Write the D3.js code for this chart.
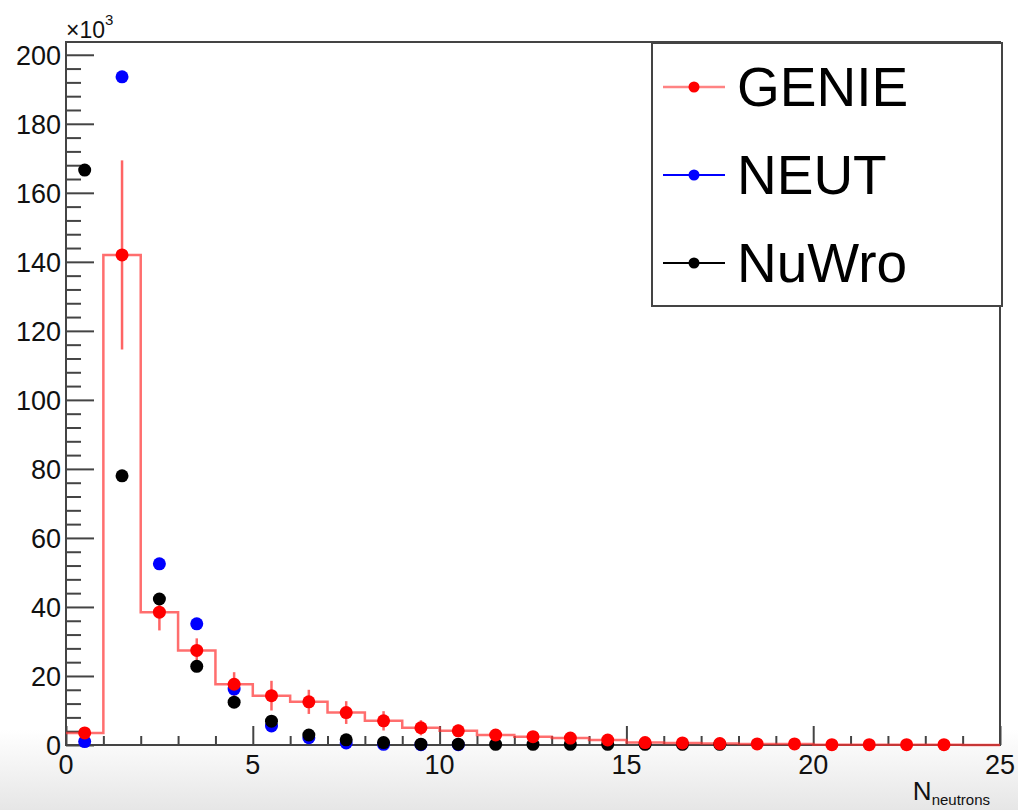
<!DOCTYPE html>
<html>
<head>
<meta charset="utf-8">
<script src="https://cdn.jsdelivr.net/npm/d3@7"></script>
<style>
  html, body { margin: 0; padding: 0; background: #fff; }
  svg { display: block; font-family: "Liberation Sans", Arial, Helvetica, sans-serif; }
</style>
</head>
<body>
<svg id="chart" width="1018" height="810"></svg>
<script>
// Neutron multiplicity per generator, in units of 10^3 entries per bin
const binEdges = d3.range(0, 26);          // 25 unit-width bins from 0 to 25
const genie    = [3.5, 142, 38.5, 27.4, 17.6, 14.3, 12.5, 9.4, 7.0, 5.0, 4.1, 2.9, 2.4, 2.0, 1.45, 0.7, 0.6, 0.4, 0.3, 0.3, 0.1, 0.1, 0.1, 0.1, 0];
const genieErr = [1.0, 27.4, 5.3, 3.5, 3.5, 4.3, 3.5, 3.3, 2.8, 2.2, 1.8, 1.5, 1.3, 1.1, 0.9, 0.6, 0.6, 0.4, 0.4, 0.3, 0.2, 0.2, 0.2, 0.2, 0];
const neut     = [1.0, 193.6, 52.5, 35.1, 16.2, 5.5, 2.1, 0.6, 0.2, 0.1, 0.1, 0, 0, 0, 0, 0, 0, 0, 0, 0, 0, 0, 0, 0, 0];
const nuwro    = [166.6, 78.0, 42.3, 22.8, 12.4, 6.9, 2.9, 1.5, 0.7, 0.25, 0.25, 0.2, 0.2, 0.2, 0.2, 0.2, 0.2, 0.2, 0, 0, 0, 0, 0, 0, 0];
const yTicks   = d3.range(0, 201, 20);
const xTicks   = [0, 5, 10, 15, 20, 25];
const legendNames  = ["GENIE", "NEUT", "NuWro"];
const legendColors = ["#ff0000", "#0000ff", "#000000"];

const svg = d3.select("#chart");
const W = 1018, H = 810;
const frame = { left: 66, right: 1000, top: 42, bottom: 745 };

// soft grey fade toward the bottom edge of the canvas
const defs = svg.append("defs");
const grad = defs.append("linearGradient").attr("id", "bgfade")
  .attr("x1", 0).attr("y1", 0).attr("x2", 0).attr("y2", 1);
grad.append("stop").attr("offset", "0%").attr("stop-color", "#ffffff");
grad.append("stop").attr("offset", "100%").attr("stop-color", "#e6e6e6");
svg.append("rect").attr("width", W).attr("height", H).attr("fill", "#fff");
svg.append("rect").attr("x", 0).attr("y", 730).attr("width", W).attr("height", 80).attr("fill", "url(#bgfade)");
svg.append("rect").attr("x", frame.left).attr("y", frame.top)
  .attr("width", frame.right - frame.left).attr("height", frame.bottom - frame.top).attr("fill", "#fff");

const x = d3.scaleLinear().domain([0, 25]).range([frame.left, frame.right]);
const y = d3.scaleLinear().domain([0, 203.7]).range([frame.bottom, frame.top]);

const axisColor = "#444";

// Y axis: major ticks every 20, minor every 4
const yAxis = d3.axisRight(y).tickValues(yTicks).tickSize(28).tickFormat("");
const gy = svg.append("g").attr("transform", `translate(${frame.left},0)`).call(yAxis);
gy.select(".domain").remove();
gy.selectAll("line").attr("stroke", axisColor).attr("stroke-width", 2);
const yMinor = d3.axisRight(y).tickValues(d3.range(0, 204, 4).filter(v => v % 20 !== 0)).tickSize(15).tickFormat("");
const gym = svg.append("g").attr("transform", `translate(${frame.left},0)`).call(yMinor);
gym.select(".domain").remove();
gym.selectAll("line").attr("stroke", axisColor).attr("stroke-width", 2);
svg.append("g").selectAll("text").data(yTicks).join("text")
  .attr("x", 61).attr("y", d => y(d) + 10)
  .attr("text-anchor", "end").attr("font-size", 27).attr("fill", "#111")
  .text(d => d);

// X axis: major ticks every 5, minor every 1
const xAxis = d3.axisTop(x).tickValues(xTicks).tickSize(19).tickFormat("");
const gx = svg.append("g").attr("transform", `translate(0,${frame.bottom})`).call(xAxis);
gx.select(".domain").remove();
gx.selectAll("line").attr("stroke", axisColor).attr("stroke-width", 2);
const xMinor = d3.axisTop(x).tickValues(d3.range(1, 25).filter(v => v % 5 !== 0)).tickSize(9).tickFormat("");
const gxm = svg.append("g").attr("transform", `translate(0,${frame.bottom})`).call(xMinor);
gxm.select(".domain").remove();
gxm.selectAll("line").attr("stroke", axisColor).attr("stroke-width", 2);
svg.append("g").selectAll("text").data(xTicks).join("text")
  .attr("x", d => x(d)).attr("y", 774)
  .attr("text-anchor", "middle").attr("font-size", 27).attr("fill", "#111")
  .text(d => d);

// exponent marker for the y axis
const expo = svg.append("text").attr("x", 66).attr("y", 38).attr("font-size", 23).attr("fill", "#111");
expo.append("tspan").text("\u00d710");
expo.append("tspan").attr("dy", -13).attr("font-size", 15).text("3");

// x axis title
const xt = svg.append("text").attr("x", 990).attr("y", 800).attr("text-anchor", "end").attr("fill", "#111");
xt.append("tspan").attr("font-size", 26).text("N");
xt.append("tspan").attr("font-size", 15).attr("dy", 5).text("neutrons");

// frame
svg.append("rect").attr("x", frame.left).attr("y", frame.top)
  .attr("width", frame.right - frame.left).attr("height", frame.bottom - frame.top)
  .attr("fill", "none").attr("stroke", axisColor).attr("stroke-width", 2);

const plot = svg.append("g");
const centers = binEdges.slice(0, -1).map(e => e + 0.5);

// GENIE histogram outline (step line)
const pink = "#ff3030";
const stepPts = [];
genie.forEach((v, i) => { stepPts.push([binEdges[i], v]); stepPts.push([binEdges[i + 1], v]); });
plot.append("path")
  .attr("d", d3.line().x(d => x(d[0])).y(d => y(d[1])).curve(d3.curveLinear)(stepPts))
  .attr("fill", "none").attr("stroke", pink).attr("stroke-opacity", 0.7).attr("stroke-width", 2.5);

// GENIE vertical error bars
plot.append("g").selectAll("line").data(genie.map((v, i) => ({ c: centers[i], v, e: genieErr[i] })).filter(d => d.e > 0))
  .join("line")
  .attr("x1", d => x(d.c)).attr("x2", d => x(d.c))
  .attr("y1", d => y(Math.max(0, d.v - d.e))).attr("y2", d => y(d.v + d.e))
  .attr("stroke", pink).attr("stroke-opacity", 0.75).attr("stroke-width", 2.5);

// markers: NEUT, then NuWro, then GENIE on top
function drawMarkers(vals, color) {
  plot.append("g").selectAll("circle")
    .data(vals.map((v, i) => ({ c: centers[i], v })).filter(d => d.v > 0))
    .join("circle")
    .attr("cx", d => x(d.c)).attr("cy", d => y(d.v)).attr("r", 6.5)
    .attr("fill", color);
}
drawMarkers(neut, "#0000ff");
drawMarkers(nuwro, "#000000");
drawMarkers(genie, "#ff0000");

// legend
const lg = svg.append("g");
lg.append("rect").attr("x", 652).attr("y", 43).attr("width", 350).attr("height", 263)
  .attr("fill", "#fff").attr("stroke", axisColor).attr("stroke-width", 2);
const rowY = [87, 175, 263];
legendNames.forEach((name, i) => {
  const lineColor = i === 0 ? pink : legendColors[i];
  lg.append("line").attr("x1", 663).attr("x2", 725).attr("y1", rowY[i]).attr("y2", rowY[i])
    .attr("stroke", lineColor).attr("stroke-opacity", i === 0 ? 0.6 : 1).attr("stroke-width", i === 0 ? 2.5 : 1.8);
  lg.append("circle").attr("cx", 694).attr("cy", rowY[i]).attr("r", 5.5).attr("fill", legendColors[i]);
  lg.append("text").attr("x", 737).attr("y", rowY[i] + 19).attr("font-size", 55).attr("fill", "#000").text(name);
});
</script>
</body>
</html>
